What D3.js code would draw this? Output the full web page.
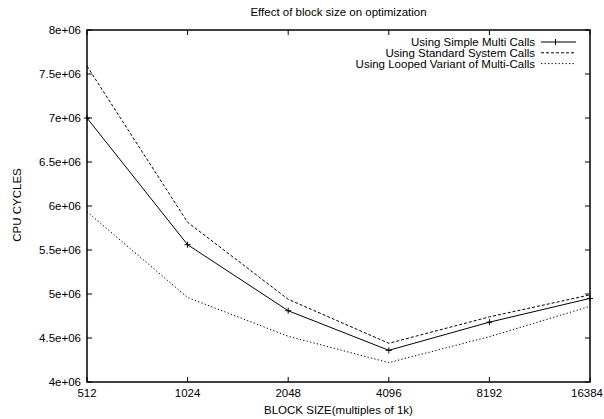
<!DOCTYPE html>
<html>
<head>
<meta charset="utf-8">
<script src="https://cdn.jsdelivr.net/npm/d3@7"></script>
<style>
  body { margin: 0; background: #fff; }
  svg { font-family: "Liberation Sans", Arial, sans-serif; }
</style>
</head>
<body>
<svg id="chart" width="604" height="419"></svg>
<script>
// block sizes (x axis, multiples of 1k)
const blockSizes = [512, 1024, 2048, 4096, 8192, 16384];
const yTicks = [4e6, 4.5e6, 5e6, 5.5e6, 6e6, 6.5e6, 7e6, 7.5e6, 8e6];

// cpu cycles per series
const simpleMulti = [7.0e6, 5.56e6, 4.81e6, 4.36e6, 4.68e6, 4.95e6];
const standardSys = [7.59e6, 5.815e6, 4.94e6, 4.44e6, 4.74e6, 4.99e6];
const loopedMulti = [5.935e6, 4.96e6, 4.52e6, 4.22e6, 4.515e6, 4.86e6];

const seriesNames = [
  "Using Simple Multi Calls",
  "Using Standard System Calls",
  "Using Looped Variant of Multi-Calls"
];

const series = [
  { name: seriesNames[0], values: simpleMulti, dash: null, marker: true },
  { name: seriesNames[1], values: standardSys, dash: "3,2", marker: false },
  { name: seriesNames[2], values: loopedMulti, dash: "1.3,2.2", marker: false }
];

const svg = d3.select("#chart");
const margin = { top: 30, right: 14, bottom: 37, left: 87 };
const width = 604 - margin.left - margin.right;
const height = 419 - margin.top - margin.bottom;
const fs = "11.5px";

const x = d3.scaleLog().base(2).domain([512, 16384]).range([0, width]);
const y = d3.scaleLinear().domain([4e6, 8e6]).range([height, 0]);

const g = svg.append("g").attr("transform", `translate(${margin.left},${margin.top})`);

// title, centred over the plot
svg.append("text")
  .attr("x", margin.left + width / 2).attr("y", 16)
  .attr("text-anchor", "middle")
  .style("font-size", fs)
  .text("Effect of block size on optimization");

// inward ticks on all four sides
const tickLen = 5;
blockSizes.forEach(b => {
  g.append("line").attr("x1", x(b)).attr("x2", x(b)).attr("y1", height).attr("y2", height - tickLen)
    .attr("stroke", "#000");
  g.append("line").attr("x1", x(b)).attr("x2", x(b)).attr("y1", 0).attr("y2", tickLen)
    .attr("stroke", "#000");
  const t = g.append("text")
    .attr("x", x(b)).attr("y", height + 15)
    .attr("text-anchor", "middle")
    .style("font-size", fs)
    .text(b);
  // keep the last label inside the window
  const half = t.node().getComputedTextLength() / 2;
  if (x(b) + half > width + margin.right - 1) {
    t.attr("x", width + margin.right - 1 - half);
  }
});

yTicks.forEach(t => {
  g.append("line").attr("x1", 0).attr("x2", tickLen).attr("y1", y(t)).attr("y2", y(t))
    .attr("stroke", "#000");
  g.append("line").attr("x1", width).attr("x2", width - tickLen).attr("y1", y(t)).attr("y2", y(t))
    .attr("stroke", "#000");
  g.append("text")
    .attr("x", -6).attr("y", y(t) + 4)
    .attr("text-anchor", "end")
    .style("font-size", fs)
    .text(d3.format(".1e")(t).replace(".0e", "e").replace("e+6", "e+06"));
});

// series lines
const line = d3.line()
  .x((d, i) => x(blockSizes[i]))
  .y(d => y(d));

series.forEach(s => {
  g.append("path")
    .datum(s.values)
    .attr("fill", "none")
    .attr("stroke", "#000")
    .attr("stroke-width", 1)
    .attr("stroke-dasharray", s.dash)
    .attr("d", line);

  if (s.marker) {
    s.values.forEach((v, i) => {
      const px = x(blockSizes[i]), py = y(v);
      g.append("path")
        .attr("d", `M${px - 3},${py}H${px + 3}M${px},${py - 3}V${py + 3}`)
        .attr("stroke", "#000").attr("stroke-width", 1);
    });
  }
});

// frame
g.append("rect")
  .attr("width", width).attr("height", height)
  .attr("fill", "none").attr("stroke", "#000").attr("stroke-width", 1.5);

// legend
series.forEach((s, i) => {
  const ly = 12 + i * 10.8;
  g.append("text")
    .attr("x", 448).attr("y", ly + 4)
    .attr("text-anchor", "end")
    .style("font-size", fs)
    .text(s.name);
  g.append("line")
    .attr("x1", 454).attr("x2", 489).attr("y1", ly).attr("y2", ly)
    .attr("stroke", "#000").attr("stroke-dasharray", s.dash);
  if (s.marker) {
    g.append("path")
      .attr("d", `M468.5,${ly - 3}V${ly + 3}`)
      .attr("stroke", "#000");
  }
});

// axis titles
svg.append("text")
  .attr("x", margin.left + width / 2).attr("y", 414)
  .attr("text-anchor", "middle")
  .style("font-size", fs)
  .text("BLOCK SIZE(multiples of 1k)");

svg.append("text")
  .attr("transform", "translate(21,205) rotate(-90)")
  .attr("text-anchor", "middle")
  .style("font-size", fs)
  .text("CPU CYCLES");
</script>
</body>
</html>
